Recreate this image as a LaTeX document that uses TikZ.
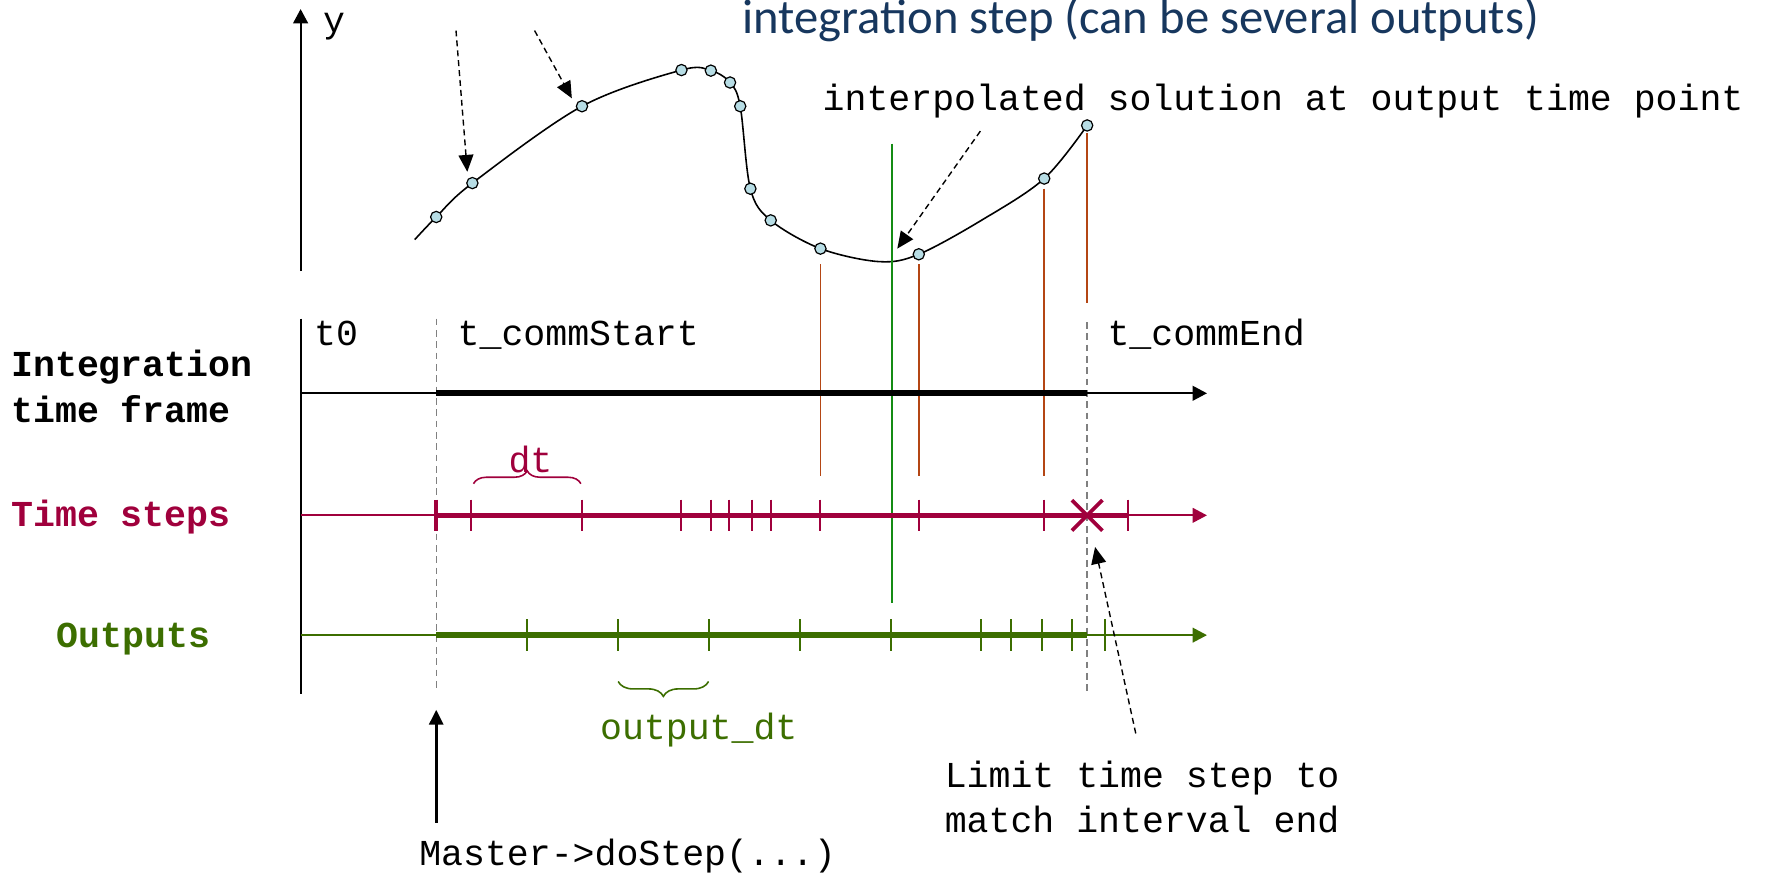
\documentclass[tikz,border=0pt]{standalone}
\usepackage{fontspec}
\setmonofont{Liberation Mono}
\newfontfamily\titlefont{Carlito}
\usetikzlibrary{arrows.meta,decorations.pathreplacing}
\definecolor{stepred}{RGB}{160,0,60}
\definecolor{outgreen}{RGB}{60,110,0}
\definecolor{markgreen}{RGB}{20,140,20}
\definecolor{rust}{RGB}{180,70,20}
\definecolor{dotfill}{RGB}{183,221,229}
\definecolor{titleblue}{RGB}{23,55,94}
\definecolor{guide}{RGB}{128,128,128}
\newcommand\monotext{\ttfamily\fontsize{18.4}{22}\selectfont}
\begin{document}
\begin{tikzpicture}[x=0.02cm, y=-0.02cm,
  every node/.style={inner sep=0pt, outer sep=0pt},
  mono/.style={font=\monotext, anchor=base west},
  rowlabel/.style={font=\monotext\bfseries, anchor=base west},
  axisline/.style={line width=1.1pt},
  thinline/.style={line width=0.9pt},
  thickline/.style={line width=2.8pt},
  tickline/.style={line width=1pt},
  guideline/.style={guide, line width=0.7pt, dash pattern=on 3.4pt off 2.3pt},
  pointer/.style={line width=0.7pt, dash pattern=on 3pt off 2pt, -{Triangle[length=8.5pt,width=7.5pt]}},
  axistip/.style={-{Triangle[length=7.2pt,width=7.4pt]}},
  sample/.style={circle, draw, fill=dotfill, line width=0.6pt, minimum size=0.2cm},
  marker/.style={rust, line width=0.8pt}]
\useasboundingbox (0,0) rectangle (1568,772);

% title line
\node[font=\titlefont\fontsize{24.5}{29}\selectfont, text=titleblue, anchor=base west] (title) at (657,30) {integration step (can be several outputs)};

% y axis
\coordinate (ybot) at (266,240);
\coordinate (ytop) at (266,8);
\draw[axisline, axistip] (ybot) -- (ytop);
\node[mono] (ylabel) at (286,29) {y};

% solution curve
\draw[line width=0.8pt] plot[smooth, tension=0.55] coordinates {(367,212) (386,192) (418,162) (515,94) (603,62) (629,62.5) (646,73) (655,94) (664,167) (682,195) (726,220) (778,231.5) (813,225) (870,194) (924,158) (962,111)};

% vertical markers from the curve down to the time steps
\coordinate (m1t) at (726,234); \coordinate (m1b) at (726,421);
\coordinate (m2t) at (813,234); \coordinate (m2b) at (813,421);
\coordinate (m3t) at (924,167); \coordinate (m3b) at (924,421);
\coordinate (m4t) at (962,118); \coordinate (m4b) at (962,268);
\draw[marker] (m1t) -- (m1b);
\draw[marker] (m2t) -- (m2b);
\draw[marker] (m3t) -- (m3b);
\draw[marker] (m4t) -- (m4b);

% output time point
\coordinate (gt) at (789,127); \coordinate (gb) at (789,534);
\draw[markgreen, line width=0.9pt] (gt) -- (gb);

% sample points on the curve
\foreach \n/\px/\py in {1/386/192, 2/418/162, 3/515/94, 4/603/62, 5/629/62.5, 6/646/73, 7/655/94, 8/664/167, 9/682/195, 10/726/220, 11/813/225, 12/924/158, 13/962/111}
  \node[sample] (s\n) at (\px,\py) {};

% lower frame
\coordinate (fa) at (266,282); \coordinate (fb) at (266,614);
\draw[axisline] (fa) -- (fb);
\coordinate (cs1) at (386,282); \coordinate (cs2) at (386,611);
\coordinate (ce1) at (962,285); \coordinate (ce2) at (962,611);
\draw[guideline] (cs1) -- (cs2);
\draw[guideline] (ce1) -- (ce2);

\node[mono] (t0) at (278,306) {t0};
\node[mono] (tstart) at (405,306) {t\_commStart};
\node[mono] (tend) at (980,306) {t\_commEnd};

% integration time frame
\coordinate (i0) at (266,348); \coordinate (i1) at (386,348);
\coordinate (i2) at (962,348); \coordinate (i3) at (1068,348);
\draw[thinline] (i0) -- (i1);
\draw[thickline, line width=3pt] (i1) -- (i2);
\draw[thinline, axistip] (i2) -- (i3);

% time steps
\coordinate (k0) at (266,456); \coordinate (k1) at (386,456);
\coordinate (k2) at (998,456); \coordinate (k3) at (1068,456);
\draw[thinline, stepred] (k0) -- (k1);
\draw[thickline, stepred] (k1) -- (k2);
\draw[thinline, stepred, axistip] (k2) -- (k3);
\draw[stepred, line width=1.8pt] (386,442) -- (386,470);
\foreach \x in {417,515,603,629,645,665,682,726,813,924,998}
  \draw[tickline, stepred] (\x,442) -- (\x,470);
\draw[stepred, line width=1.9pt] (948.5,442.5) -- (975.5,469.5) (948.5,469.5) -- (975.5,442.5);
\draw[stepred, line width=0.8pt, decorate, decoration={brace, amplitude=6.5pt}] (419,428) -- (514,428);
\node[mono, text=stepred] (dt) at (450,418) {dt};

% outputs
\coordinate (o0) at (266,562); \coordinate (o1) at (386,562);
\coordinate (o2) at (962,562); \coordinate (o3) at (1068,562);
\draw[thinline, outgreen] (o0) -- (o1);
\draw[thickline, outgreen] (o1) -- (o2);
\draw[thinline, outgreen, axistip] (o2) -- (o3);
\foreach \x in {466,547,627,708,788,868,895,922,949,978}
  \draw[tickline, outgreen] (\x,548) -- (\x,576);
\draw[outgreen, line width=0.8pt, decorate, decoration={brace, amplitude=7.5pt}] (627,603) -- (547,603);
\node[mono, text=outgreen] (odt) at (531,654) {output\_dt};

% row labels
\node[rowlabel] (lint1) at (10,333.5) {Integration};
\node[rowlabel] (lint2) at (10,374) {time frame};
\node[rowlabel, text=stepred] (lsteps) at (10,466) {Time steps};
\node[rowlabel, text=outgreen] (lout) at (50,572.5) {Outputs};

% annotations
\node[mono] (interp) at (728,98) {interpolated solution at output time point};
\node[mono] (limit1) at (836,697) {Limit time step to};
\node[mono] (limit2) at (836,737) {match interval end};
\node[mono] (master) at (371,765.5) {Master->doStep(...)};

% pointers
\coordinate (a1s) at (403.5,27); \coordinate (a1e) at (413.5,152);
\coordinate (a2s) at (473,27); \coordinate (a2e) at (506,87);
\coordinate (a3s) at (867.5,116); \coordinate (a3e) at (794,220);
\coordinate (a4s) at (1005,649); \coordinate (a4e) at (969,484);
\draw[pointer] (a1s) -- (a1e);
\draw[pointer] (a2s) -- (a2e);
\draw[pointer] (a3s) -- (a3e);
\draw[pointer] (a4s) -- (a4e);
\coordinate (ms) at (386,728); \coordinate (me) at (386,628);
\draw[line width=1.6pt, -{Triangle[length=7.5pt,width=7pt]}] (ms) -- (me);
\end{tikzpicture}
\end{document}
